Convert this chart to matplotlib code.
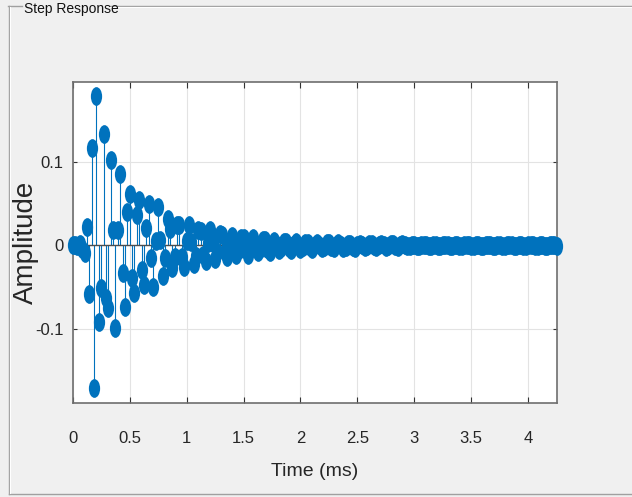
import numpy as np
import matplotlib.pyplot as plt
import matplotlib.font_manager as fm
from matplotlib.path import Path
from matplotlib.transforms import Affine2D
from matplotlib.lines import Line2D

# sample rate of the filter (kHz), time axis in ms
fs_khz = 48.0

# step response samples
amplitude = [
    0.000, 0.001, -0.001, 0.002, -0.004, -0.009, 0.022, -0.058, 0.116, -0.170,
    0.178, -0.091, -0.051, 0.133, -0.063, -0.075, 0.102, 0.019, -0.099, 0.019,
    0.085, -0.033, -0.073, 0.040, 0.062, -0.039, -0.057, 0.036, 0.054, -0.029,
    -0.047, 0.021, 0.050, -0.015, -0.049, 0.005, 0.046, 0.007, -0.037, -0.015,
    0.032, 0.020, -0.027, -0.014, 0.024, 0.024, -0.014, -0.026, 0.005, 0.025,
    0.004, -0.022, -0.012, 0.018, 0.017, -0.011, -0.019, 0.003, 0.018, 0.003,
    -0.016, -0.008, 0.014, 0.013, -0.008, -0.014, 0.002,
    0.0118, 0.0020, -0.0111, -0.0059, 0.0091, 0.0091, -0.0059, -0.0111, 0.0020,
    0.0085, 0.0015, -0.0080, -0.0043, 0.0066, 0.0066, -0.0043, -0.0080, 0.0015,
    0.0055, 0.0009, -0.0052, -0.0028, 0.0042, 0.0042, -0.0028, -0.0052, 0.0009,
    0.0042, 0.0007, -0.0039, -0.0021, 0.0032, 0.0032, -0.0021, -0.0039, 0.0007,
    0.0032, 0.0005, -0.0030, -0.0016, 0.0025, 0.0025, -0.0016, -0.0030, 0.0005,
    0.0025, 0.0004, -0.0024, -0.0013, 0.0019, 0.0019, -0.0013, -0.0024, 0.0004,
    0.0019, 0.0003, -0.0018, -0.0010, 0.0015, 0.0015, -0.0010, -0.0018, 0.0003,
    0.0015, 0.0003, -0.0014, -0.0008, 0.0012, 0.0012, -0.0008, -0.0014, 0.0003,
    0.0012, 0.0002, -0.0011, -0.0006, 0.0009, 0.0009, -0.0006, -0.0011, 0.0002,
    0.0009, 0.0002, -0.0008, -0.0005, 0.0007, 0.0007, -0.0005, -0.0008, 0.0002,
    0.0007, 0.0001, -0.0007, -0.0004, 0.0005, 0.0005, -0.0004, -0.0007, 0.0001,
    0.0005, 0.0001, -0.0005, -0.0003, 0.0004, 0.0004, -0.0003, -0.0005, 0.0001,
    0.0004, 0.0001, -0.0004, -0.0002, 0.0003, 0.0003, -0.0002, -0.0004, 0.0001,
    0.0003, 0.0001, -0.0003, -0.0002, 0.0002, 0.0002, -0.0002, -0.0003, 0.0001,
    0.0002, 0.0000, -0.0002, -0.0001, 0.0002, 0.0002, -0.0001, -0.0002, 0.0000,
    0.0002, 0.0000, -0.0002,
]
time_ms = np.arange(len(amplitude)) / fs_khz

xticks = [0, 0.5, 1, 1.5, 2, 2.5, 3, 3.5, 4]
xtick_labels = ["0", "0.5", "1", "1.5", "2", "2.5", "3", "3.5", "4"]
yticks = [-0.1, 0, 0.1]
ytick_labels = ["-0.1", "0", "0.1"]

# fonts: narrow one if there is one
names = {f.name for f in fm.fontManager.ttflist}
narrow = "Liberation Sans Narrow" in names
base = "Liberation Sans Narrow" if narrow else "Liberation Sans"
plt.rcParams["font.family"] = [base, "DejaVu Sans"]
tick_fs = 14 if narrow else 12
xlab_fs = 16 if narrow else 14
title_fs = 11 if narrow else 10

W, H = 632, 497
blue = "#0072BD"

fig = plt.figure(figsize=(W / 100, H / 100), dpi=100, facecolor="#f0f0f0")
ax = fig.add_axes([72.7 / W, 1 - 403 / H, 484 / W, 321.3 / H])
ax.set_facecolor("white")

# squeezed circle marker, like the reference
ellipse = Path.unit_circle().transformed(Affine2D().scale(0.6, 1.0))

markerline, stemlines, baseline = ax.stem(time_ms, amplitude)
stemlines.set_color(blue)
stemlines.set_linewidth(0.8)
stemlines.set_zorder(2)
markerline.set_marker(ellipse)
markerline.set_markersize(13.5)
markerline.set_markerfacecolor(blue)
markerline.set_markeredgecolor(blue)
markerline.set_markeredgewidth(0)
markerline.set_zorder(3)
markerline.set_clip_on(False)
baseline.set_color("#4d4d4d")
baseline.set_linewidth(1.0)
baseline.set_zorder(2.5)

ax.set_xlim(0, time_ms[-1])
ax.set_ylim(-0.188, 0.1955)
ax.set_xticks(xticks)
ax.set_xticklabels(xtick_labels)
ax.set_yticks(yticks)
ax.set_yticklabels(ytick_labels)

ax.grid(True, color="#e3e3e3", linewidth=0.8, zorder=0)
ax.set_axisbelow(True)
for s in ax.spines.values():
    s.set_color("#6e6e6e")
    s.set_linewidth(1.2)
ax.tick_params(axis="x", direction="in", top=True, length=4.5, width=0.8,
               color="#333333", labelsize=tick_fs, labelcolor="#262626", pad=20)
ax.tick_params(axis="y", direction="in", right=True, length=3, width=0.8,
               color="#333333", labelsize=tick_fs, labelcolor="#262626", pad=6.5)

ax.set_xlabel("Time (ms)", fontsize=xlab_fs, color="#262626", va="center")
ax.xaxis.set_label_coords(0.5, (403 - 472) / 321.3)
ax.set_ylabel("Amplitude", fontsize=20, color="#262626", va="center",
              family=["Liberation Sans", "DejaVu Sans"])
ax.yaxis.set_label_coords((25.5 - 72.7) / 484, 0.5)

# panel frame with title
def px_line(xs, ys, color, lw):
    fig.add_artist(Line2D([x / W for x in xs], [1 - y / H for y in ys],
                          color=color, linewidth=lw, transform=fig.transFigure))

grey = "#a0a0a0"
px_line([8, 22], [5.5, 5.5], grey, 1.0)
px_line([110, W], [5.5, 5.5], grey, 1.0)
px_line([9, 9], [5.5, 494], grey, 1.0)
px_line([9, W], [494, 494], grey, 1.0)
px_line([110, W], [6.5, 6.5], "white", 0.8)
px_line([10, 10], [6.5, 493], "white", 0.8)

fig.text(24 / W, 1 - 9.5 / H, "Step Response", ha="left", va="center",
         fontsize=title_fs, color="#111111")

fig.savefig("out.png", dpi=100, facecolor=fig.get_facecolor())
